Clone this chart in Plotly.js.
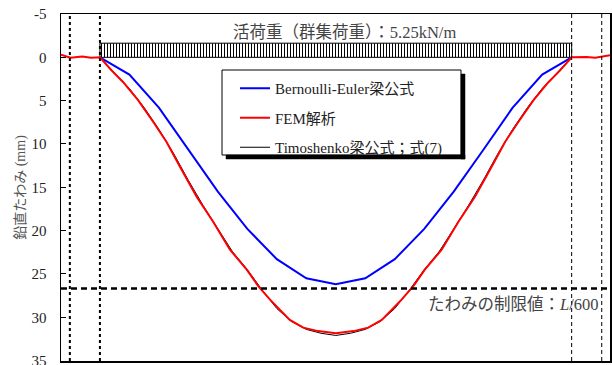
<!DOCTYPE html>
<html><head><meta charset="utf-8">
<script src="https://cdn.plot.ly/plotly-3.0.1.min.js"></script>
<style>html,body{margin:0;padding:0;background:#fff}</style>
</head><body><div id="chart" style="width:612px;height:365px"></div>
<script>
// ---- data (deflection in mm, position in m) ----
const beamX = [0,1,2,3,4,5,6,7,8,9,10,11,12,13,14,15,16];
const bernoulliY = [0,2.0,5.8,10.7,15.5,19.8,23.3,25.5,26.2,25.5,23.3,19.8,15.5,10.7,5.8,2.0,0];

const femX = [-1.32,-1.0,-0.6,-0.3,0,0.40,0.79,1.30,1.81,2.26,2.71,3.28,3.84,4.41,4.98,5.37,5.77,6.44,6.90,7.40,8.00,8.60,9.10,9.56,10.23,10.63,11.02,11.59,12.16,12.72,13.29,13.74,14.19,14.70,15.21,15.60,16.0,16.5,16.8,17.0,17.3];
const femY = [-0.3,0.05,-0.1,0.05,0,1.53,2.87,4.98,7.47,9.77,12.6,16.1,18.97,22.2,24.5,26.4,27.97,30.3,31.2,31.6,31.85,31.6,31.2,30.3,27.97,26.4,24.5,22.2,18.97,16.1,12.6,9.77,7.47,4.98,2.87,1.53,0,-0.05,0.05,-0.05,-0.25];

const timoX = [0,0.5,1,1.5,2,2.5,3,3.5,4,4.5,5,5.5,6,6.5,7,7.5,8,8.5,9,9.5,10,10.5,11,11.5,12,12.5,13,13.5,14,14.5,15,15.5,16];
const timoY = [0,1.75,3.6,5.8,8.3,11.1,14.2,17.1,19.8,22.45,24.5,26.85,29.0,30.5,31.4,31.85,32.1,31.85,31.4,30.5,29.0,26.85,24.5,22.45,19.8,17.1,14.2,11.1,8.3,5.8,3.6,1.75,0];

const yTickVals = [-5,0,5,10,15,20,25,30,35];
const yTickText = ['-5','0','5','10','15','20','25','30','35'];
const seriesNames = ['Bernoulli-Euler梁公式','FEM解析','Timoshenko梁公式；式(7)'];
const supportX = [0,16];          // span supports
const outerSupportX = [-1.02,17.02];
const loadCenter = [8], loadSpan = [16], loadValue = [-1.63];
const limitDeflection = 26.67;    // L/600
const loadLabel = '活荷重（群集荷重）：5.25kN/m';
const limitLabel = 'たわみの制限値：<i>L</i>/600';
const yTitle = '鉛直たわみ (mm)';

const FONT = 'Liberation Serif, Noto Sans CJK JP, serif';

// plot-area pixel geometry helpers (margins l=61,t=14, size 549x347)
const PX = (p)=> (p-61)/549, PY = (p)=> (361-p)/347;

const traces = [
  {type:'bar', x:loadCenter, y:loadValue, base:[0], width:loadSpan, showlegend:false, hoverinfo:'skip',
   marker:{color:'white', line:{color:'black', width:1},
     pattern:{shape:'|', fgcolor:'black', bgcolor:'white', size:3, solidity:0.35}}},
  {type:'scatter', mode:'lines', x:beamX, y:bernoulliY, name:seriesNames[0], legendrank:1, legendgroup:'a',
   line:{color:'#0000ff', width:2}},
  {type:'scatter', mode:'lines', x:timoX, y:timoY, name:seriesNames[2], legendrank:3, legendgroup:'c',
   line:{color:'black', width:1}},
  {type:'scatter', mode:'lines', x:femX, y:femY, name:seriesNames[1], legendrank:2, legendgroup:'b',
   line:{color:'#ff0000', width:2}}
];

const shapes = [];
outerSupportX.concat(supportX).forEach((v)=>{
  const left = v < 8;
  shapes.push({type:'line', xref:'x', yref:'paper', x0:v, x1:v, y0:0, y1:1,
    line:{color:'black', width:left?2:1, dash:left?'3px,3px':'4px,3px'}});
});
shapes.push({type:'line', xref:'paper', yref:'y', x0:0, x1:1, y0:limitDeflection, y1:limitDeflection,
  line:{color:'black', width:2.5, dash:'6px,4px'}});
// legend frame with drop shadow (two strips)
shapes.push({type:'rect', xref:'paper', yref:'paper', x0:PX(222), x1:PX(461), y0:PY(155), y1:PY(70),
  fillcolor:'white', line:{color:'black', width:1}, layer:'above'});
shapes.push({type:'rect', xref:'paper', yref:'paper', x0:PX(461), x1:PX(465), y0:PY(159), y1:PY(74),
  fillcolor:'black', line:{color:'black', width:0.5}, layer:'above'});
shapes.push({type:'rect', xref:'paper', yref:'paper', x0:PX(226), x1:PX(465), y0:PY(159), y1:PY(155),
  fillcolor:'black', line:{color:'black', width:0.5}, layer:'above'});

const layout = {
  width:612, height:365,
  margin:{l:61, r:2, t:14, b:4},
  paper_bgcolor:'white', plot_bgcolor:'white',
  font:{family:FONT, size:15, color:'#222'},
  showlegend:true,
  legend:{x:PX(235), y:PY(72), xanchor:'left', yanchor:'top',
    bgcolor:'rgba(0,0,0,0)', borderwidth:0, itemwidth:30,
    font:{family:FONT, size:15, color:'#222'}, tracegroupgap:7},
  xaxis:{range:[-1.32,17.3], showticklabels:false, ticks:'', showgrid:false, zeroline:false,
    showline:true, linecolor:'black', linewidth:1.5, mirror:true},
  yaxis:{range:[35.05,-5], tickvals:yTickVals, ticktext:yTickText, ticks:'inside', ticklen:5, tickcolor:'black', tickwidth:1,
    showgrid:false, zeroline:false, showline:true, linecolor:'black', linewidth:1.5, mirror:true,
    ticklabelstandoff:10, ticklabeloverflow:'allow', tickfont:{family:FONT, size:15, color:'#222'},
    title:{text:yTitle, font:{family:FONT, size:14, color:'#555'}, standoff:2}},
  bargap:0,
  shapes:shapes,
  annotations:[
    {xref:'paper', yref:'paper', x:PX(344.5), y:PY(32), xanchor:'center', yanchor:'middle', text:loadLabel, showarrow:false,
     font:{family:FONT, size:16.5, color:'#444'}},
    {xref:'paper', yref:'paper', x:PX(601), y:PY(304), xanchor:'right', yanchor:'middle', text:limitLabel, showarrow:false,
     font:{family:FONT, size:16.5, color:'#444'}}
  ]
};
Plotly.newPlot('chart', traces, layout, {displayModeBar:false, staticPlot:true});
</script></body></html>
